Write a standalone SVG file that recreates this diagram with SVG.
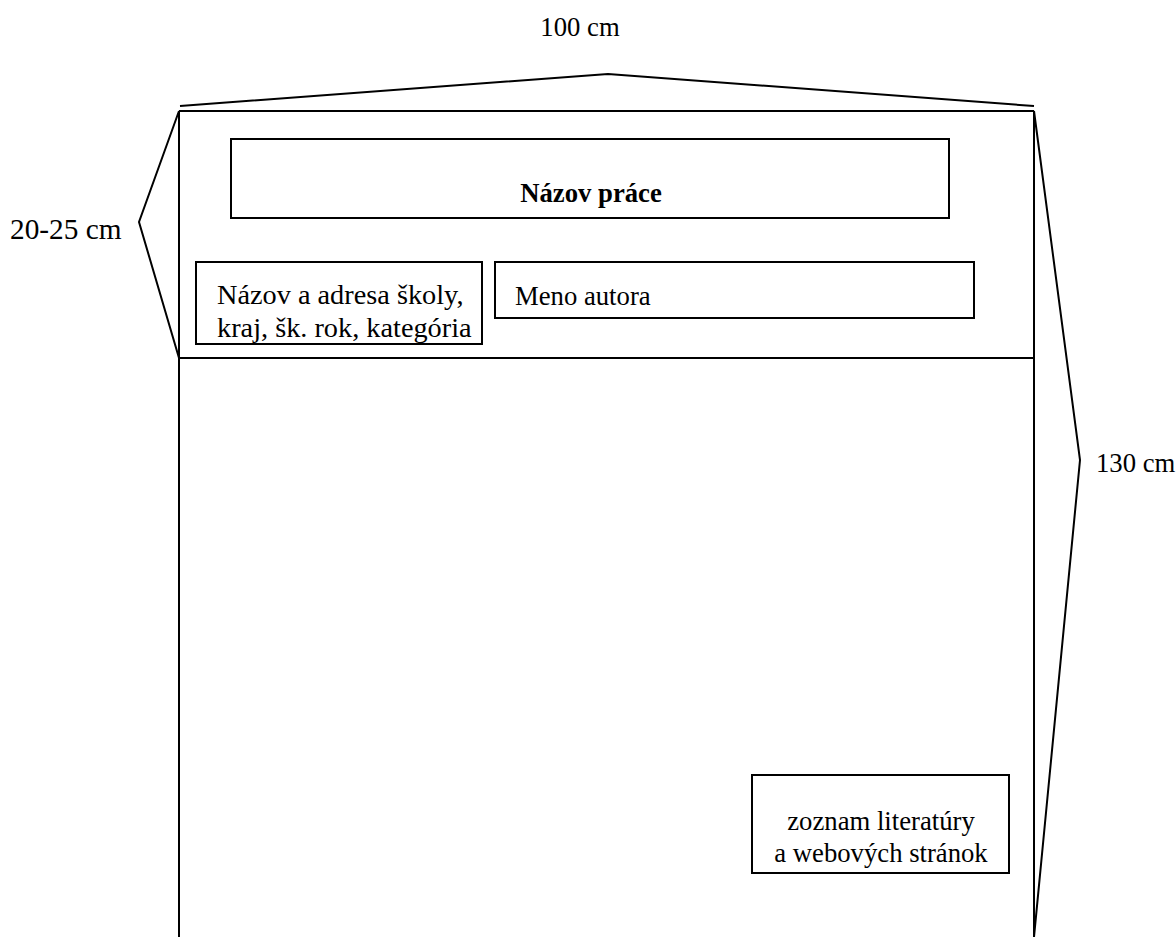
<svg xmlns="http://www.w3.org/2000/svg" width="1176" height="937" viewBox="0 0 1176 937">
<style>
.ln{fill:none;stroke:#000;stroke-width:2}
.bx{fill:#fff;stroke:#000;stroke-width:2}
.t{font-family:"Liberation Serif","Times New Roman",serif;font-size:26.7px;fill:#000}
.b{font-weight:bold}
.s{font-size:28.3px}
</style>
<rect width="1176" height="937" fill="#fff"/>
<g id="connectors">
<polyline class="ln" points="180,106 608,74 1034,106"/>
<polyline class="ln" points="179,111 139,222 179,358"/>
<polyline class="ln" points="1034,111 1080,460 1034,937"/>
</g>
<g id="poster">
<line class="ln" x1="179" y1="111" x2="1034" y2="111"/>
<line class="ln" x1="179" y1="111" x2="179" y2="937"/>
<line class="ln" x1="1034" y1="111" x2="1034" y2="937"/>
<line class="ln" x1="179" y1="358" x2="1034" y2="358"/>
</g>
<g id="label-width"><text class="t" x="580" y="36" text-anchor="middle">100 cm</text></g>
<g id="label-header"><text class="t" x="10" y="239" style="font-size:29.3px">20-25 cm</text></g>
<g id="label-height"><text class="t" x="1096" y="472">130 cm</text></g>
<g id="title">
<rect class="bx" x="231" y="139" width="718" height="79"/>
<text class="t b" x="591" y="202" text-anchor="middle">Názov práce</text>
</g>
<g id="school">
<rect class="bx" x="196" y="262" width="286" height="82"/>
<text class="t s" x="217" y="304">Názov a adresa školy,</text>
<text class="t s" x="217" y="337">kraj, šk. rok, kategória</text>
</g>
<g id="author">
<rect class="bx" x="495" y="262" width="479" height="56"/>
<text class="t" x="515" y="305">Meno autora</text>
</g>
<g id="references">
<rect class="bx" x="752" y="775" width="257" height="98"/>
<text class="t" x="881" y="830" text-anchor="middle">zoznam literatúry</text>
<text class="t" x="881" y="862" text-anchor="middle">a webových stránok</text>
</g>
</svg>
